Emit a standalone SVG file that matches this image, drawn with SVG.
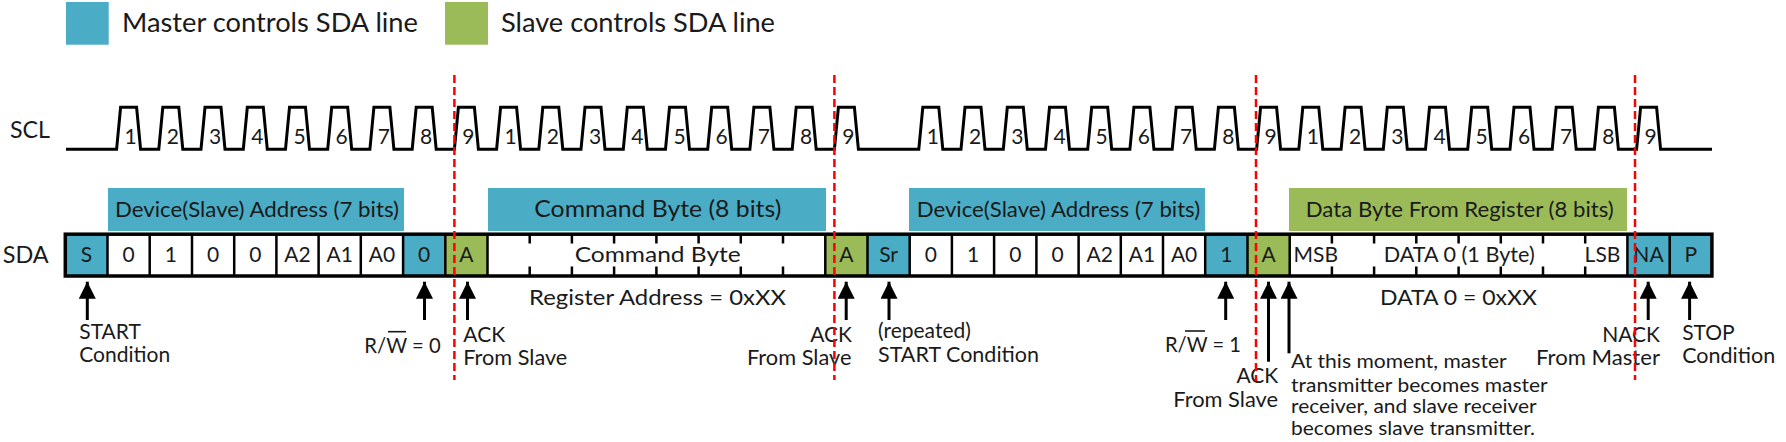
<svg xmlns="http://www.w3.org/2000/svg" width="1786" height="442" viewBox="0 0 1786 442">
<style>
text{font-family:Lato,"Open Sans","Liberation Sans",sans-serif;fill:#1a1a1a}
.lg{font-size:26.5px}
.sig{font-size:24px}
.d{font-size:21px;text-anchor:middle}
.c{font-size:21px;text-anchor:middle}
.b{font-size:21px}
.s{font-size:21px}
.p{font-size:18.5px}
.blue{fill:#4BACC6}
.green{fill:#9BBB59}
.wave{fill:none;stroke:#000;stroke-width:3;stroke-linejoin:miter}
.div{stroke:#000;stroke-width:2.5}
.tick{stroke:#000;stroke-width:2.5}
.arr{stroke:#000;stroke-width:3;marker-end:url(#ah)}
.dash{stroke:#FF0000;stroke-width:2.5;stroke-dasharray:8 4}
.ov{stroke:#1a1a1a;stroke-width:1.6}
</style>
<defs>
<marker id="ah" markerUnits="userSpaceOnUse" markerWidth="17" markerHeight="17" refX="16" refY="8" orient="auto" viewBox="0 0 16 16">
<path d="M0,0 L16,8 L0,16 z" fill="#000"/>
</marker>
</defs>

<g id="legend">
<rect class="blue" x="66" y="2" width="42.7" height="42.7"/>
<text class="lg" x="122" y="32.3" textLength="296" lengthAdjust="spacingAndGlyphs">Master controls SDA line</text>
<rect class="green" x="445" y="2" width="43" height="42.7"/>
<text class="lg" x="501" y="32.3" textLength="274" lengthAdjust="spacingAndGlyphs">Slave controls SDA line</text>
</g>

<g id="scl">
<text class="sig" x="10" y="138.3" textLength="40" lengthAdjust="spacingAndGlyphs">SCL</text>
<path class="wave" d="M66,149.3 L116.6,149.3 L120.6,107.3 L136.6,107.3 L140.6,149.3 L158.8,149.3 L162.8,107.3 L178.8,107.3 L182.8,149.3 L201.0,149.3 L205.0,107.3 L221.0,107.3 L225.0,149.3 L243.3,149.3 L247.3,107.3 L263.3,107.3 L267.3,149.3 L285.5,149.3 L289.5,107.3 L305.5,107.3 L309.5,149.3 L327.7,149.3 L331.7,107.3 L347.7,107.3 L351.7,149.3 L369.9,149.3 L373.9,107.3 L389.9,107.3 L393.9,149.3 L412.2,149.3 L416.2,107.3 L432.2,107.3 L436.2,149.3 L454.4,149.3 L458.4,107.3 L474.4,107.3 L478.4,149.3 L496.6,149.3 L500.6,107.3 L516.6,107.3 L520.6,149.3 L538.8,149.3 L542.8,107.3 L558.8,107.3 L562.8,149.3 L581.0,149.3 L585.0,107.3 L601.0,107.3 L605.0,149.3 L623.3,149.3 L627.3,107.3 L643.3,107.3 L647.3,149.3 L665.5,149.3 L669.5,107.3 L685.5,107.3 L689.5,149.3 L707.7,149.3 L711.7,107.3 L727.7,107.3 L731.7,149.3 L749.9,149.3 L753.9,107.3 L769.9,107.3 L773.9,149.3 L792.2,149.3 L796.2,107.3 L812.2,107.3 L816.2,149.3 L834.4,149.3 L838.4,107.3 L854.4,107.3 L858.4,149.3 L918.8,149.3 L922.8,107.3 L938.8,107.3 L942.8,149.3 L961.0,149.3 L965.0,107.3 L981.0,107.3 L985.0,149.3 L1003.3,149.3 L1007.3,107.3 L1023.3,107.3 L1027.3,149.3 L1045.5,149.3 L1049.5,107.3 L1065.5,107.3 L1069.5,149.3 L1087.7,149.3 L1091.7,107.3 L1107.7,107.3 L1111.7,149.3 L1129.9,149.3 L1133.9,107.3 L1149.9,107.3 L1153.9,149.3 L1172.2,149.3 L1176.2,107.3 L1192.2,107.3 L1196.2,149.3 L1214.4,149.3 L1218.4,107.3 L1234.4,107.3 L1238.4,149.3 L1256.6,149.3 L1260.6,107.3 L1276.6,107.3 L1280.6,149.3 L1298.8,149.3 L1302.8,107.3 L1318.8,107.3 L1322.8,149.3 L1341.1,149.3 L1345.1,107.3 L1361.1,107.3 L1365.1,149.3 L1383.3,149.3 L1387.3,107.3 L1403.3,107.3 L1407.3,149.3 L1425.5,149.3 L1429.5,107.3 L1445.5,107.3 L1449.5,149.3 L1467.7,149.3 L1471.7,107.3 L1487.7,107.3 L1491.7,149.3 L1510.0,149.3 L1514.0,107.3 L1530.0,107.3 L1534.0,149.3 L1552.2,149.3 L1556.2,107.3 L1572.2,107.3 L1576.2,149.3 L1594.4,149.3 L1598.4,107.3 L1614.4,107.3 L1618.4,149.3 L1636.6,149.3 L1640.6,107.3 L1656.6,107.3 L1660.6,149.3 L1712,149.3"/>
<g class="d">
<text x="130.6" y="144">1</text><text x="172.8" y="144">2</text><text x="215.0" y="144">3</text><text x="257.3" y="144">4</text><text x="299.5" y="144">5</text><text x="341.7" y="144">6</text><text x="383.9" y="144">7</text><text x="426.2" y="144">8</text><text x="468.4" y="144">9</text>
<text x="510.6" y="144">1</text><text x="552.8" y="144">2</text><text x="595.0" y="144">3</text><text x="637.3" y="144">4</text><text x="679.5" y="144">5</text><text x="721.7" y="144">6</text><text x="763.9" y="144">7</text><text x="806.2" y="144">8</text><text x="848.4" y="144">9</text>
<text x="932.8" y="144">1</text><text x="975.0" y="144">2</text><text x="1017.3" y="144">3</text><text x="1059.5" y="144">4</text><text x="1101.7" y="144">5</text><text x="1143.9" y="144">6</text><text x="1186.2" y="144">7</text><text x="1228.4" y="144">8</text><text x="1270.6" y="144">9</text>
<text x="1312.8" y="144">1</text><text x="1355.1" y="144">2</text><text x="1397.3" y="144">3</text><text x="1439.5" y="144">4</text><text x="1481.7" y="144">5</text><text x="1524.0" y="144">6</text><text x="1566.2" y="144">7</text><text x="1608.4" y="144">8</text><text x="1650.6" y="144">9</text>
</g>
</g>

<g id="bars">
<rect class="blue" x="108" y="188" width="296" height="43"/>
<text class="b" x="115" y="216.7" textLength="284" lengthAdjust="spacingAndGlyphs">Device(Slave) Address (7 bits)</text>
<rect class="blue" x="488" y="188" width="338" height="43"/>
<text class="b" x="534.3" y="216.7" style="font-size:23.5px" textLength="247" lengthAdjust="spacingAndGlyphs">Command Byte (8 bits)</text>
<rect class="blue" x="909" y="188" width="296" height="43"/>
<text class="b" x="916.7" y="216.7" textLength="283.5" lengthAdjust="spacingAndGlyphs">Device(Slave) Address (7 bits)</text>
<rect class="green" x="1289" y="188" width="338" height="43"/>
<text class="b" x="1305.8" y="216.5" textLength="308" lengthAdjust="spacingAndGlyphs">Data Byte From Register (8 bits)</text>
</g>

<g id="sda">
<text class="sig" x="2.7" y="263.3" textLength="46" lengthAdjust="spacingAndGlyphs">SDA</text>
<rect class="blue" x="65.3" y="234.2" width="42.2" height="41.8"/>
<rect class="blue" x="403.1" y="234.2" width="42.2" height="41.8"/>
<rect class="green" x="445.3" y="234.2" width="42.2" height="41.8"/>
<rect class="green" x="825.3" y="234.2" width="42.2" height="41.8"/>
<rect class="blue" x="867.5" y="234.2" width="42.2" height="41.8"/>
<rect class="blue" x="1205.2" y="234.2" width="42.3" height="41.8"/>
<rect class="green" x="1247.5" y="234.2" width="42.2" height="41.8"/>
<rect class="blue" x="1627.4" y="234.2" width="84.5" height="41.8"/>
<g class="div">
<line x1="107.5" y1="234" x2="107.5" y2="276"/><line x1="149.7" y1="234" x2="149.7" y2="276"/><line x1="192.0" y1="234" x2="192.0" y2="276"/><line x1="234.2" y1="234" x2="234.2" y2="276"/><line x1="276.4" y1="234" x2="276.4" y2="276"/><line x1="318.6" y1="234" x2="318.6" y2="276"/><line x1="360.8" y1="234" x2="360.8" y2="276"/><line x1="403.1" y1="234" x2="403.1" y2="276"/><line x1="445.3" y1="234" x2="445.3" y2="276"/><line x1="487.5" y1="234" x2="487.5" y2="276"/>
<line x1="825.3" y1="234" x2="825.3" y2="276"/><line x1="867.5" y1="234" x2="867.5" y2="276"/><line x1="909.7" y1="234" x2="909.7" y2="276"/><line x1="951.9" y1="234" x2="951.9" y2="276"/><line x1="994.1" y1="234" x2="994.1" y2="276"/><line x1="1036.4" y1="234" x2="1036.4" y2="276"/><line x1="1078.6" y1="234" x2="1078.6" y2="276"/><line x1="1120.8" y1="234" x2="1120.8" y2="276"/><line x1="1163.0" y1="234" x2="1163.0" y2="276"/><line x1="1205.2" y1="234" x2="1205.2" y2="276"/><line x1="1247.5" y1="234" x2="1247.5" y2="276"/><line x1="1289.7" y1="234" x2="1289.7" y2="276"/>
<line x1="1627.4" y1="234" x2="1627.4" y2="276"/><line x1="1669.7" y1="234" x2="1669.7" y2="276"/>
</g>
<g class="tick">
<path d="M529.7,234V243.5M571.9,234V243.5M614.1,234V243.5M656.4,234V243.5M698.6,234V243.5M740.8,234V243.5M783.0,234V243.5M529.7,276V266.5M571.9,276V266.5M614.1,276V266.5M656.4,276V266.5M698.6,276V266.5M740.8,276V266.5M783.0,276V266.5"/>
<path d="M1331.9,234V243.5M1374.1,234V243.5M1416.3,234V243.5M1458.6,234V243.5M1500.8,234V243.5M1543.0,234V243.5M1585.2,234V243.5M1331.9,276V266.5M1374.1,276V266.5M1416.3,276V266.5M1458.6,276V266.5M1500.8,276V266.5M1543.0,276V266.5M1585.2,276V266.5"/>
</g>
<rect x="65.3" y="234.2" width="1646.6" height="41.8" fill="none" stroke="#000" stroke-width="3.5"/>
<g class="c">
<text x="86.4" y="262">S</text><text x="128.6" y="262">0</text><text x="170.9" y="262">1</text><text x="213.1" y="262">0</text><text x="255.3" y="262">0</text><text x="297.5" y="262">A2</text><text x="339.7" y="262">A1</text><text x="382.0" y="262">A0</text><text x="424.2" y="262">0</text><text x="466.4" y="262">A</text>
<text x="657.7" y="262" textLength="166" lengthAdjust="spacingAndGlyphs">Command Byte</text>
<text x="846.4" y="262">A</text><text x="888.6" y="262">Sr</text><text x="930.8" y="262">0</text><text x="973.0" y="262">1</text><text x="1015.3" y="262">0</text><text x="1057.5" y="262">0</text><text x="1099.7" y="262">A2</text><text x="1141.9" y="262">A1</text><text x="1184.1" y="262">A0</text><text x="1226.4" y="262">1</text><text x="1268.6" y="262">A</text>
<text x="1315.8" y="262">MSB</text>
<text x="1459.2" y="262" textLength="151" lengthAdjust="spacingAndGlyphs">DATA 0 (1 Byte)</text>
<text x="1602.5" y="262">LSB</text>
<text x="1648.5" y="262">NA</text><text x="1690.8" y="262">P</text>
</g>
</g>

<g id="values">
<text class="s" x="529" y="305" style="font-size:22px" textLength="257" lengthAdjust="spacingAndGlyphs">Register Address = 0xXX</text>
<text class="s" x="1380" y="305" style="font-size:22px" textLength="157" lengthAdjust="spacingAndGlyphs">DATA 0 = 0xXX</text>
</g>

<g id="annotations">
<text class="s" x="79.3" y="339.3">START</text>
<text class="s" x="79.3" y="362.3">Condition</text>
<text class="s" x="364.3" y="353.3" textLength="76.4" lengthAdjust="spacingAndGlyphs">R/W = 0</text>
<line class="ov" x1="388" y1="331.7" x2="406" y2="331.7"/>
<text class="s" x="463.3" y="341.7">ACK</text>
<text class="s" x="463.3" y="365" textLength="104" lengthAdjust="spacingAndGlyphs">From Slave</text>
<text class="s" x="852" y="341.7" text-anchor="end">ACK</text>
<text class="s" x="851.4" y="365" text-anchor="end" textLength="104.4" lengthAdjust="spacingAndGlyphs">From Slave</text>
<text class="s" x="878" y="338.3">(repeated)</text>
<text class="s" x="878" y="361.7" textLength="161" lengthAdjust="spacingAndGlyphs">START Condition</text>
<text class="s" x="1165" y="352.3" textLength="76" lengthAdjust="spacingAndGlyphs">R/W = 1</text>
<line class="ov" x1="1185" y1="331" x2="1205" y2="331"/>
<text class="s" x="1278.3" y="383.3" text-anchor="end">ACK</text>
<text class="s" x="1278" y="407.3" text-anchor="end" textLength="104.7" lengthAdjust="spacingAndGlyphs">From Slave</text>
<text class="p" x="1291" y="368.3" textLength="215.7" lengthAdjust="spacingAndGlyphs">At this moment, master</text>
<text class="p" x="1291" y="391.7" textLength="256.7" lengthAdjust="spacingAndGlyphs">transmitter becomes master</text>
<text class="p" x="1291" y="413.3" textLength="245.7" lengthAdjust="spacingAndGlyphs">receiver, and slave receiver</text>
<text class="p" x="1291" y="435" textLength="244" lengthAdjust="spacingAndGlyphs">becomes slave transmitter.</text>
<text class="s" x="1660" y="341.7" text-anchor="end">NACK</text>
<text class="s" x="1660" y="365" text-anchor="end" textLength="124" lengthAdjust="spacingAndGlyphs">From Master</text>
<text class="s" x="1682.2" y="340">STOP</text>
<text class="s" x="1682.2" y="363.3" textLength="93" lengthAdjust="spacingAndGlyphs">Condition</text>
</g>

<g id="connectors">
<line class="arr" x1="87.3" y1="320" x2="87.3" y2="281.7"/>
<line class="arr" x1="424.5" y1="320" x2="424.5" y2="281.7"/>
<line class="arr" x1="467.5" y1="320" x2="467.5" y2="281.7"/>
<line class="arr" x1="846.2" y1="320" x2="846.2" y2="281.7"/>
<line class="arr" x1="889" y1="320" x2="889" y2="281.7"/>
<line class="arr" x1="1225.7" y1="320" x2="1225.7" y2="281.7"/>
<line class="arr" x1="1268.5" y1="361.7" x2="1268.5" y2="281.7"/>
<line class="arr" x1="1289" y1="353.3" x2="1289" y2="281.7"/>
<line class="arr" x1="1648.2" y1="320" x2="1648.2" y2="281.7"/>
<line class="arr" x1="1689.6" y1="320" x2="1689.6" y2="281.7"/>
<line class="dash" x1="454.4" y1="75" x2="454.4" y2="380"/>
<line class="dash" x1="834.4" y1="75" x2="834.4" y2="380"/>
<line class="dash" x1="1256" y1="75" x2="1256" y2="381"/>
<line class="dash" x1="1635" y1="75" x2="1635" y2="380"/>
</g>
</svg>
